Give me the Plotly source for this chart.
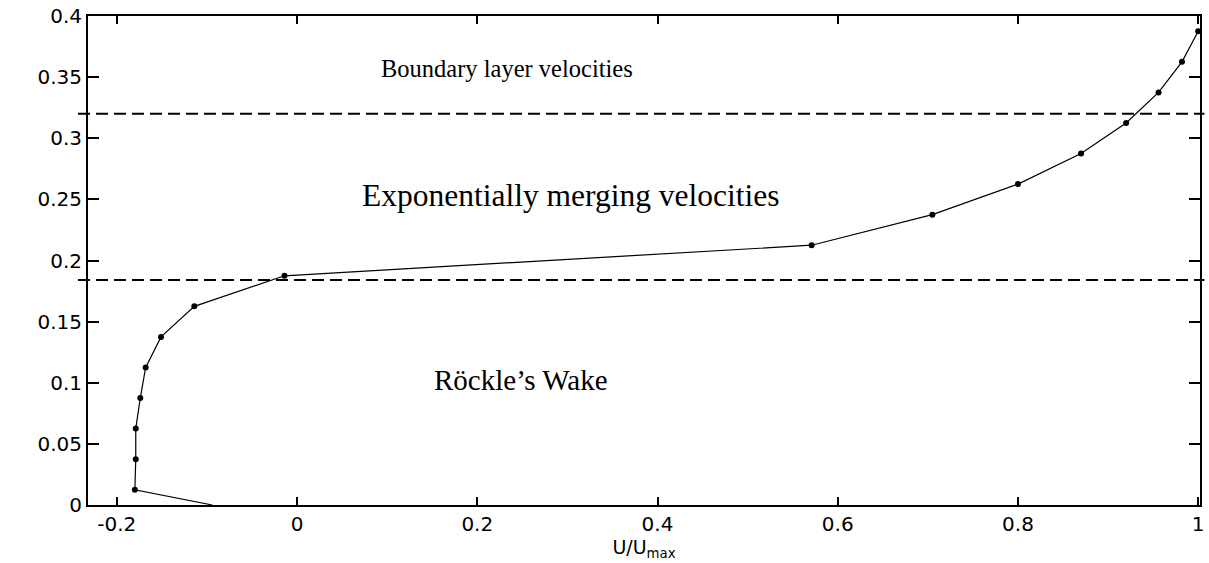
import plotly.graph_objects as go

# Velocity profile: normalised velocity U/Umax against height
u_ratio = [-0.094, -0.180, -0.179, -0.179, -0.174, -0.168, -0.151, -0.114,
           -0.014, 0.571, 0.705, 0.800, 0.870, 0.920, 0.956, 0.982, 1.000]
height = [0.0, 0.0125, 0.0375, 0.0625, 0.0875, 0.1125, 0.1375, 0.1625,
          0.1875, 0.2125, 0.2375, 0.2625, 0.2875, 0.3125, 0.3375, 0.3625, 0.3875]

# Region boundaries (horizontal dashed lines)
boundaries = [0.32, 0.184]

# Region labels
region_labels = ["Boundary layer velocities", "Exponentially merging velocities", "Röckle’s Wake"]
label_x = [0.233, 0.304, 0.249]
label_y = [0.357, 0.253, 0.102]
label_size = [24.5, 31.5, 29]

x_ticks = [-0.2, 0, 0.2, 0.4, 0.6, 0.8, 1]
x_tick_text = ["-0.2", "0", "0.2", "0.4", "0.6", "0.8", "1"]
y_ticks = [0, 0.05, 0.1, 0.15, 0.2, 0.25, 0.3, 0.35, 0.4]
y_tick_text = ["0", "0.05", "0.1", "0.15", "0.2", "0.25", "0.3", "0.35", "0.4"]

fig = go.Figure()

fig.add_trace(go.Scatter(
    x=u_ratio, y=height, mode="lines",
    line=dict(color="black", width=1.2),
    hoverinfo="skip", showlegend=False,
))
fig.add_trace(go.Scatter(
    x=u_ratio[1:], y=height[1:], mode="markers",
    marker=dict(color="black", size=6, symbol="circle"),
    showlegend=False,
))

for yb in boundaries:
    fig.add_shape(type="line", xref="paper", yref="y",
                  x0=-0.009, x1=1.004, y0=yb, y1=yb,
                  line=dict(color="black", width=2, dash="12px,6px"))

for txt, lx, ly, ls in zip(region_labels, label_x, label_y, label_size):
    fig.add_annotation(x=lx, y=ly, xref="x", yref="y", text=txt,
                       showarrow=False,
                       font=dict(family="Liberation Serif", size=ls, color="black"))

tick_font = dict(family="DejaVu Sans", size=20, color="black")

fig.update_xaxes(
    range=[-0.232, 1.002], tickvals=x_ticks, ticktext=x_tick_text,
    ticks="inside", ticklen=8, tickwidth=1.5, tickcolor="black",
    showline=True, linecolor="black", linewidth=2, mirror="ticks",
    showgrid=False, zeroline=False, tickfont=tick_font,
    title=dict(text="U/U<sub>max</sub>", font=dict(family="DejaVu Sans", size=19, color="black"),
               standoff=0),
)
fig.update_yaxes(
    range=[0, 0.4], tickvals=y_ticks, ticktext=y_tick_text,
    ticks="inside", ticklen=11, tickwidth=1.5, tickcolor="black",
    showline=True, linecolor="black", linewidth=2, mirror="ticks",
    showgrid=False, zeroline=False, tickfont=tick_font,
)

fig.update_layout(
    width=1209, height=563,
    margin=dict(l=88, r=4, t=15, b=58),
    paper_bgcolor="white", plot_bgcolor="white",
    showlegend=False,
)

fig.write_html("out.html")
